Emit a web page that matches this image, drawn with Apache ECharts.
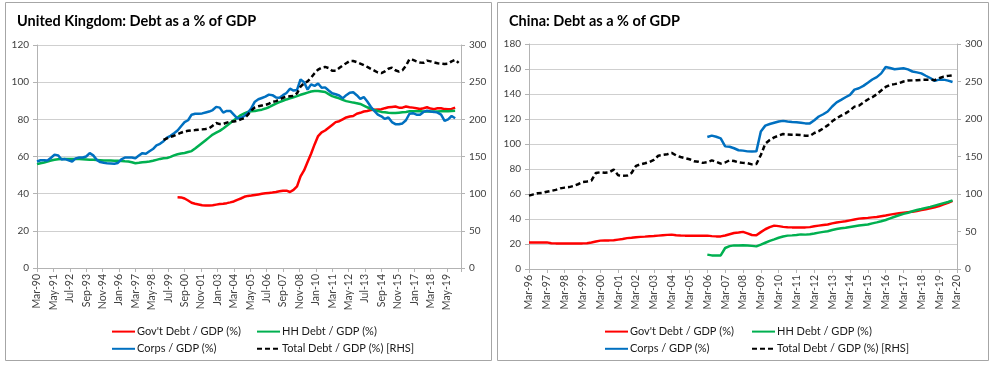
<!DOCTYPE html>
<html><head><meta charset="utf-8">
<script src="https://cdn.jsdelivr.net/npm/echarts@6/dist/echarts.min.js"></script>
<style>html,body{margin:0;padding:0;background:#fff}#c{width:994px;height:366px}</style>
</head><body><div id="c"></div>
<script>
// ---------- DATA (quarterly observations; x in months since the axis start) ----------
// United Kingdom: axis starts Mar-90, ticks every 14 months
const ukAxisStart = { year: 1990, month: 2 };
const ukAxisMax = 362;
const ukCorpsStart = 0;
const ukCorps = [57.3,58.0,58.0,57.8,59.3,61.0,60.6,58.4,58.6,58.0,57.3,59.0,59.5,59.5,60.0,61.8,60.6,58.2,57.0,56.6,
  56.3,56.2,56.1,56.5,58.5,59.4,59.4,59.5,59.1,60.5,61.8,61.5,62.8,64.0,66.0,66.8,68.2,70.2,71.1,72.5,
  74.0,76.3,78.5,79.5,82.5,83.0,83.0,83.2,83.7,84.2,85.0,86.7,86.3,83.6,84.5,84.5,82.5,80.5,80.8,81.8,
  83.5,86.0,89.5,90.8,91.5,92.2,93.3,93.0,91.8,91.6,93.0,94.2,96.5,95.5,95.8,101.5,100.0,96.0,98.8,98.0,
  99.3,97.0,97.2,95.5,94.0,93.5,92.8,91.3,93.0,94.3,94.6,93.0,91.0,92.0,89.6,86.8,84.5,82.5,81.6,80.2,
  81.0,78.5,77.4,77.4,77.8,79.5,83.0,83.3,82.5,82.5,84.0,84.6,84.2,84.0,83.6,82.5,79.2,80.0,81.8,80.6];
const ukHHStart = 0;
const ukHH = [55.9,56.4,56.8,57.3,57.8,58.2,58.5,58.6,58.7,58.7,58.7,58.6,58.6,58.5,58.4,58.3,58.2,58.1,58.0,57.9,
  57.8,57.8,57.7,57.7,57.6,57.4,57.3,56.9,56.4,56.6,56.9,57.1,57.3,57.7,58.2,58.7,59.1,59.2,59.8,60.6,
  61.2,61.6,61.9,62.4,62.9,64.3,65.8,67.3,68.8,70.3,71.8,72.8,73.8,75.1,76.5,78.0,79.5,80.9,82.3,83.2,
  84.0,84.3,84.5,84.9,85.2,85.8,86.5,87.5,88.5,89.3,90.0,90.7,91.3,91.9,92.5,93.2,93.8,94.4,95.0,95.2,
  95.3,95.0,94.7,93.6,92.5,91.9,91.3,90.5,89.8,89.4,89.0,88.7,88.3,87.4,86.5,85.7,85.0,84.5,84.0,83.8,
  83.5,83.4,83.4,83.6,83.8,84.0,84.3,84.4,84.4,84.3,84.2,84.2,84.2,84.2,84.2,84.3,84.3,84.4,84.5,84.6];
const ukGovStart = 120;
const ukGov = [38.1,38.0,37.4,36.3,35.1,34.6,34.2,33.8,33.6,33.6,33.8,34.1,34.4,34.6,34.9,35.3,35.8,36.7,37.4,38.3,
  38.8,39.0,39.3,39.6,39.9,40.2,40.4,40.6,40.9,41.3,41.6,41.6,40.9,42.0,43.9,49.3,52.5,57.0,61.5,66.5,
  71.0,73.0,74.0,75.5,77.0,78.5,79.0,80.0,81.0,81.5,81.8,83.0,83.5,84.2,84.5,85.0,85.2,85.3,85.4,86.0,
  86.5,86.7,86.9,86.3,86.3,86.9,86.5,86.3,86.0,85.6,86.0,86.5,85.8,85.5,86.0,86.0,85.5,85.4,85.6,86.3];
const ukTotalStart = 108;
const ukTotal = [172.4,174.5,176.5,178,180,182,183.7,184.5,185.2,185.5,186,186.5,187,188,191.5,195,193.6,193.9,195.5,197,
  197,198,200,201.5,206,212,216,217.5,218.5,219.4,221,223.5,224.5,226.5,229,230.5,231,231.5,235,244,
  248.5,251,256,262,267,269.5,270.5,269,265.5,265.5,269,272.5,275.5,278.5,278.5,277,275,273,270.5,268,
  265.5,263,262.2,264.5,268,269.5,266,264.2,266,272,281,280,278,276.5,276,279,278,276.5,275.4,275,
  274.5,275,278,280,276];

// China: axis starts Mar-96, ticks every 12 months
const cnAxisStart = { year: 1996, month: 2 };
const cnAxisMax = 288;
const cnGovStart = 0;
const cnGov = [21.3,21.3,21.3,21.3,21.3,20.6,20.5,20.5,20.5,20.5,20.5,20.5,20.5,20.6,21.2,22.0,22.7,22.9,22.9,23.0,
  23.5,24.0,24.7,25.0,25.4,25.7,25.9,26.2,26.4,26.7,27.0,27.3,27.5,27.0,26.8,26.7,26.7,26.7,26.7,26.7,
  26.7,26.3,26.1,26.1,26.8,27.8,28.8,29.2,29.7,28.5,27.2,27.0,29.5,31.8,33.5,34.7,34.3,33.7,33.4,33.3,
  33.3,33.3,33.3,33.5,34.2,34.7,35.2,35.6,36.5,37.2,37.7,38.2,38.9,39.6,40.3,40.6,40.9,41.3,41.6,42.2,
  42.8,43.5,44.1,44.6,45.1,45.5,45.8,46.4,47.1,47.8,48.5,49.4,50.4,51.8,53.0,54.5];
const cnHHStart = 120;
const cnHH = [11.5,10.9,10.9,10.9,16.8,18.3,18.9,18.8,19.0,18.8,18.5,18.1,19.5,21.0,22.5,23.7,25.0,26.0,26.7,26.9,
  27.2,27.7,27.5,27.8,28.4,29.1,29.7,30.2,31.2,32.0,32.6,33.0,33.6,34.2,34.8,35.2,35.6,36.5,37.3,38.2,
  39.2,40.5,41.8,43.0,44.1,45.0,46.2,47.2,48.0,48.9,49.7,50.7,51.7,52.7,53.6,54.9];
const cnCorpsStart = 120;
const cnCorps = [105.6,106.7,105.8,104.5,98.1,97.8,96.6,95.0,94.7,94.1,94.0,94.1,110.0,114.7,116.0,117.0,118.0,118.5,118.0,117.6,
  117.4,117.0,116.5,116.5,119.0,122.0,123.8,126.0,130.0,133.3,135.3,137.4,139.3,143.5,144.6,146.5,149.0,151.6,153.5,156.5,
  161.6,160.8,159.8,160.2,160.6,159.7,158.0,157.3,156.5,154.6,152.8,150.5,151.5,151.5,150.7,149.6];
const cnTotalStart = 0;
const cnTotal = [97.8,99.5,101,101.5,103,104.2,105.5,107.5,108.5,109.2,110.7,113,115.8,116.7,118,128,129,128.3,129,132.5,
  125,124.4,124.5,128,137.5,139.5,141,142.7,145.5,151,152,153,154.7,151.5,149.3,147.8,146.3,143.8,143,141.5,
  142.5,144.8,143,140.5,142,145,144,142.2,141.5,141,139.5,140,152,167,172,175.5,177.8,180,179.5,179.1,
  179.1,178.5,177.8,177.5,181.3,183.8,187.5,191.5,196.9,201,204.5,207.5,211.5,216.5,217.8,222,226,229,233,238,
  242.7,245.6,246.5,247.8,250,251.2,251.5,251.8,252.2,252.4,252.4,251.8,254.3,256.5,257.5,258.2];

const seriesNames = ["Gov't Debt / GDP (%)", 'HH Debt / GDP (%)', 'Corps / GDP (%)', 'Total Debt / GDP (%) [RHS]'];
const ukTitle = 'United Kingdom: Debt as a % of GDP';
const cnTitle = 'China: Debt as a % of GDP';

// ---------- CHART ----------
const MONTHS = ['Jan','Feb','Mar','Apr','May','Jun','Jul','Aug','Sep','Oct','Nov','Dec'];
function monthLabel(base, m) {
  const t = base.month + m;
  const y = base.year + Math.floor(t / 12);
  return MONTHS[t % 12] + '-' + String(y % 100).padStart(2, '0');
}
function pairs(start, vals) { return vals.map((v, i) => [start + 3 * i, v]); }

const FONT = 'Lato, "Liberation Sans", sans-serif';
const AX = '#b3b3b3', GRID = '#cfcfcf', LBL = '#404040';
const colors = ['#ff0000', '#00b050', '#0070c0', '#000000'];

function xAxis(grid, max, interval, base) {
  return {
    type: 'value', gridIndex: grid, min: 0, max: max, interval: interval,
    axisLine: { show: true, onZero: false, lineStyle: { color: AX, width: 1 } },
    axisTick: { show: true, length: 4, lineStyle: { color: AX } },
    splitLine: { show: false },
    axisLabel: {
      rotate: 90, margin: 6, fontFamily: FONT, fontSize: 10.5, color: LBL,
      showMaxLabel: true, showMinLabel: true,
      formatter: v => (Math.round(v) % interval === 0 ? monthLabel(base, Math.round(v)) : '')
    }
  };
}
function yAxis(grid, max, interval, pos, split) {
  return {
    type: 'value', gridIndex: grid, min: 0, max: max, interval: interval, position: pos,
    axisLine: { show: true, lineStyle: { color: AX, width: 1 } },
    axisTick: { show: true, length: 4, lineStyle: { color: AX } },
    splitLine: { show: split, lineStyle: { color: GRID, width: 1 } },
    axisLabel: { margin: 8, fontFamily: FONT, fontSize: 10, color: LBL }
  };
}
function line(nameIdx, xi, yi, data) {
  const dashed = nameIdx === 3;
  return {
    name: seriesNames[nameIdx], type: 'line', xAxisIndex: xi, yAxisIndex: yi,
    data: data, symbol: 'none', showSymbol: false, animation: false,
    lineStyle: { color: colors[nameIdx], width: 2.5, type: dashed ? [5, 3] : 'solid' },
    itemStyle: { color: colors[nameIdx] }, z: dashed ? 5 : 3
  };
}
function legend(left, names) {
  return {
    left: left, top: 321, orient: 'vertical', itemGap: 6, itemWidth: 23, itemHeight: 14,
    selectedMode: false, data: names,
    itemStyle: { opacity: 0 },
    textStyle: { fontFamily: FONT, fontSize: 11, color: '#1a1a1a', padding: [0, 0, 0, -3] }
  };
}

const chart = echarts.init(document.getElementById('c'), null, { renderer: 'canvas' });
chart.setOption({
  animation: false,
  backgroundColor: '#ffffff',
  title: [
    { text: ukTitle, left: 12, top: 9, textStyle: { fontFamily: FONT, fontSize: 14.5, fontWeight: 'bold', color: '#000' } },
    { text: cnTitle, left: 504, top: 9, textStyle: { fontFamily: FONT, fontSize: 14.5, fontWeight: 'bold', color: '#000' } }
  ],
  graphic: [
    { type: 'rect', shape: { x: 5.5, y: 2.5, width: 486, height: 358 }, style: { fill: 'none', stroke: '#a6a6a6', lineWidth: 1 }, z: -1 },
    { type: 'rect', shape: { x: 497.5, y: 2.5, width: 491, height: 358 }, style: { fill: 'none', stroke: '#a6a6a6', lineWidth: 1 }, z: -1 }
  ],
  grid: [
    { left: 37, top: 45, width: 424, height: 223 },
    { left: 529, top: 44, width: 428, height: 225 }
  ],
  xAxis: [
    xAxis(0, ukAxisMax, 14, ukAxisStart),
    xAxis(1, cnAxisMax, 12, cnAxisStart)
  ],
  yAxis: [
    yAxis(0, 120, 20, 'left', true),
    yAxis(0, 300, 50, 'right', false),
    yAxis(1, 180, 20, 'left', true),
    yAxis(1, 300, 50, 'right', false)
  ],
  legend: [
    legend(106, [seriesNames[0], seriesNames[2]]),
    legend(251, [seriesNames[1], seriesNames[3]]),
    legend(599, [seriesNames[0], seriesNames[2]]),
    legend(746, [seriesNames[1], seriesNames[3]])
  ],
  series: [
    line(0, 0, 0, pairs(ukGovStart, ukGov)),
    line(1, 0, 0, pairs(ukHHStart, ukHH)),
    line(2, 0, 0, pairs(ukCorpsStart, ukCorps)),
    line(3, 0, 1, pairs(ukTotalStart, ukTotal)),
    line(0, 1, 2, pairs(cnGovStart, cnGov)),
    line(1, 1, 2, pairs(cnHHStart, cnHH)),
    line(2, 1, 2, pairs(cnCorpsStart, cnCorps)),
    line(3, 1, 3, pairs(cnTotalStart, cnTotal))
  ]
});
</script></body></html>
